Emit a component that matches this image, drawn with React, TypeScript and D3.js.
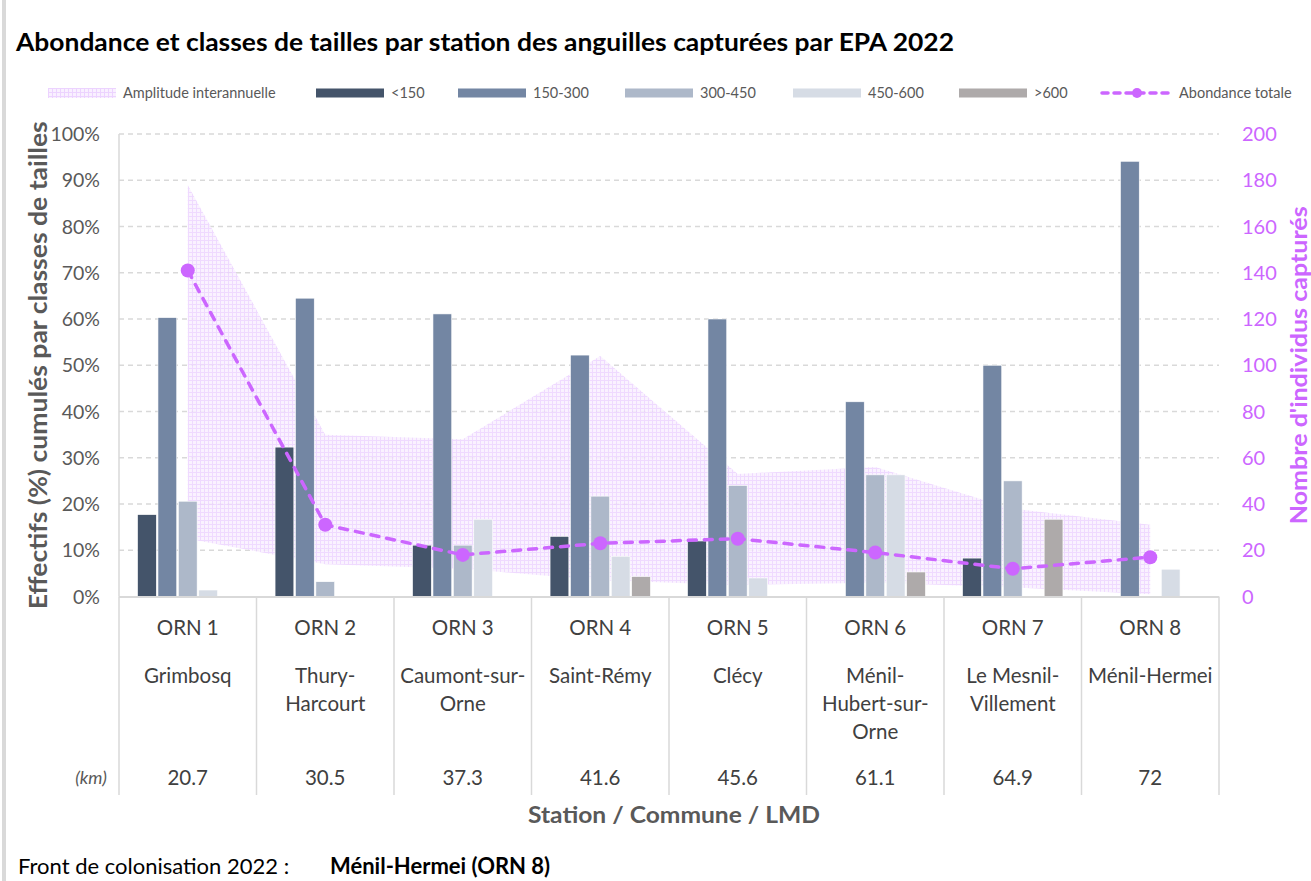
import React, { useEffect, useRef } from 'react';
import * as d3 from 'd3';

// données
const stations = ['ORN 1', 'ORN 2', 'ORN 3', 'ORN 4', 'ORN 5', 'ORN 6', 'ORN 7', 'ORN 8'];
const communes = [
  ['Grimbosq'],
  ['Thury-', 'Harcourt'],
  ['Caumont-sur-', 'Orne'],
  ['Saint-Rémy'],
  ['Clécy'],
  ['Ménil-', 'Hubert-sur-', 'Orne'],
  ['Le Mesnil-', 'Villement'],
  ['Ménil-Hermei'],
];
const distancesKm = ['20.7', '30.5', '37.3', '41.6', '45.6', '61.1', '64.9', '72'];

const sizeClasses = ['<150', '150-300', '300-450', '450-600', '>600'];
const pctLt150 = [17.7, 32.3, 11.1, 13.0, 12.0, 0, 8.3, 0];
const pct150to300 = [60.3, 64.5, 61.1, 52.2, 60.0, 42.1, 50.0, 94.1];
const pct300to450 = [20.6, 3.2, 11.1, 21.7, 24.0, 26.3, 25.0, 0];
const pct450to600 = [1.4, 0, 16.7, 8.7, 4.0, 26.3, 0, 5.9];
const pctGt600 = [0, 0, 0, 4.3, 0, 5.3, 16.7, 0];

const abondanceTotale = [141, 31, 18, 23, 25, 19, 12, 17];
const amplitudeMin = [25, 14, 12, 7, 5, 6, 4, 1];
const amplitudeMax = [178, 70, 68, 104, 53, 56, 38, 31];

const leftTicks = [0, 10, 20, 30, 40, 50, 60, 70, 80, 90, 100];
const rightTicks = [0, 20, 40, 60, 80, 100, 120, 140, 160, 180, 200];

const classColors = ['#44546a', '#7386a3', '#adb8c9', '#d6dce5', '#aeaaaa'];
const lineColor = '#cc66ff';
const font = "Lato, 'Open Sans', sans-serif";

export default function App() {
  const svgRef = useRef<SVGSVGElement>(null);

  useEffect(() => {
    const width = 1311;
    const height = 881;
    const plot = { left: 119, right: 1219, top: 134, bottom: 596.5 };
    const series = [pctLt150, pct150to300, pct300to450, pct450to600, pctGt600];

    const svg = d3.select(svgRef.current);
    svg.selectAll('*').remove();

    svg.append('rect').attr('width', width).attr('height', height).attr('fill', '#fff');
    svg.append('rect').attr('x', 2).attr('y', 0).attr('width', 4).attr('height', height).attr('fill', '#d9d9d9');

    // motif de l'amplitude
    const pat = svg.append('defs').append('pattern')
      .attr('id', 'ampl')
      .attr('width', 4).attr('height', 4)
      .attr('patternUnits', 'userSpaceOnUse');
    pat.append('rect').attr('width', 4).attr('height', 4).attr('fill', '#f9f0ff');
    pat.append('rect').attr('width', 4).attr('height', 1).attr('fill', '#ecd3ff');
    pat.append('rect').attr('width', 1).attr('height', 4).attr('fill', '#ecd3ff');

    // échelles
    const x = d3.scaleBand().domain(stations).range([plot.left, plot.right]);
    const xInner = d3.scaleBand<number>()
      .domain(d3.range(sizeClasses.length))
      .range([0, x.bandwidth()])
      .paddingInner(0.08)
      .paddingOuter(0.91);
    const yLeft = d3.scaleLinear().domain([0, 100]).range([plot.bottom, plot.top]);
    const yRight = d3.scaleLinear().domain([0, 200]).range([plot.bottom, plot.top]);
    const cx = (s: string) => (x(s) as number) + x.bandwidth() / 2;

    // titre
    svg.append('text')
      .attr('x', 16).attr('y', 51)
      .attr('font-family', font).attr('font-size', 25.5).attr('font-weight', 700)
      .attr('fill', '#000')
      .attr('textLength', 938).attr('lengthAdjust', 'spacingAndGlyphs')
      .text('Abondance et classes de tailles par station des anguilles capturées par EPA 2022');

    // grille
    svg.append('g').selectAll('line').data(leftTicks.slice(1)).join('line')
      .attr('x1', plot.left).attr('x2', plot.right)
      .attr('y1', d => yLeft(d)).attr('y2', d => yLeft(d))
      .attr('stroke', '#d9d9d9').attr('stroke-width', 1.3)
      .attr('stroke-dasharray', '5 4');

    // amplitude interannuelle
    const area = d3.area<number>()
      .x((_, i) => cx(stations[i]))
      .y0((_, i) => yRight(amplitudeMin[i]))
      .y1(d => yRight(d));
    svg.append('path')
      .datum(amplitudeMax)
      .attr('fill', 'url(#ampl)')
      .attr('fill-opacity', 0.85)
      .attr('d', area);

    // barres
    series.forEach((vals, k) => {
      svg.append('g').selectAll('rect').data(vals).join('rect')
        .attr('x', (_, i) => (x(stations[i]) as number) + (xInner(k) as number))
        .attr('width', xInner.bandwidth())
        .attr('y', d => yLeft(d))
        .attr('height', d => plot.bottom - yLeft(d))
        .attr('fill', classColors[k])
        .attr('stroke', '#fff').attr('stroke-width', 0.6)
        .attr('opacity', d => (d > 0 ? 1 : 0));
    });

    // axe gauche
    svg.append('line')
      .attr('x1', plot.left).attr('x2', plot.left)
      .attr('y1', plot.top).attr('y2', plot.bottom)
      .attr('stroke', '#d9d9d9').attr('stroke-width', 1.5);
    svg.append('g').selectAll('text').data(leftTicks).join('text')
      .attr('x', 100).attr('y', d => yLeft(d) + 7)
      .attr('text-anchor', 'end')
      .attr('font-family', font).attr('font-size', 19.5).attr('fill', '#595959')
      .text(d => `${d}%`);

    // axe droit
    svg.append('g').selectAll('text').data(rightTicks).join('text')
      .attr('x', 1242).attr('y', d => yRight(d) + 7)
      .attr('font-family', font).attr('font-size', 20).attr('fill', lineColor)
      .text(d => d);

    // axe des stations
    svg.append('line')
      .attr('x1', plot.left).attr('x2', plot.right)
      .attr('y1', plot.bottom + 0.5).attr('y2', plot.bottom + 0.5)
      .attr('stroke', '#d9d9d9').attr('stroke-width', 2);
    svg.append('g').selectAll('line').data(d3.range(stations.length + 1)).join('line')
      .attr('x1', i => plot.left + i * x.step()).attr('x2', i => plot.left + i * x.step())
      .attr('y1', plot.bottom).attr('y2', 795)
      .attr('stroke', '#d9d9d9').attr('stroke-width', 1.5);

    const labels = svg.append('g')
      .attr('font-family', font).attr('font-size', 20.5).attr('fill', '#404040')
      .attr('text-anchor', 'middle');
    stations.forEach((s, i) => {
      labels.append('text').attr('x', cx(s)).attr('y', 635).text(s);
      communes[i].forEach((c, j) => {
        labels.append('text').attr('x', cx(s)).attr('y', 683 + j * 28).text(c);
      });
      labels.append('text').attr('x', cx(s)).attr('y', 785).text(distancesKm[i]);
    });
    svg.append('text')
      .attr('x', 107).attr('y', 784)
      .attr('text-anchor', 'end')
      .attr('font-family', font).attr('font-size', 18).attr('font-style', 'italic')
      .attr('fill', '#595959')
      .text('(km)');

    // abondance totale
    const line = d3.line<number>()
      .x((_, i) => cx(stations[i]))
      .y(d => yRight(d));
    svg.append('path')
      .datum(abondanceTotale)
      .attr('fill', 'none')
      .attr('stroke', lineColor)
      .attr('stroke-width', 3.5)
      .attr('stroke-linecap', 'round')
      .attr('stroke-dasharray', '8 8')
      .attr('d', line);
    svg.append('g').selectAll('circle').data(abondanceTotale).join('circle')
      .attr('cx', (_, i) => cx(stations[i]))
      .attr('cy', d => yRight(d))
      .attr('r', 7)
      .attr('fill', lineColor);

    // titres des axes
    svg.append('text')
      .attr('transform', `translate(47,${(plot.top + plot.bottom) / 2}) rotate(-90)`)
      .attr('text-anchor', 'middle')
      .attr('font-family', font).attr('font-size', 24).attr('font-weight', 700)
      .attr('fill', '#595959')
      .attr('textLength', 488).attr('lengthAdjust', 'spacingAndGlyphs')
      .text('Effectifs (%) cumulés par classes de tailles');
    svg.append('text')
      .attr('transform', `translate(1307,${(plot.top + plot.bottom) / 2}) rotate(-90)`)
      .attr('text-anchor', 'middle')
      .attr('font-family', font).attr('font-size', 23).attr('font-weight', 700)
      .attr('fill', lineColor)
      .attr('textLength', 318).attr('lengthAdjust', 'spacingAndGlyphs')
      .text("Nombre d'individus capturés");
    svg.append('text')
      .attr('x', 674).attr('y', 823)
      .attr('text-anchor', 'middle')
      .attr('font-family', font).attr('font-size', 23).attr('font-weight', 700)
      .attr('fill', '#595959')
      .attr('textLength', 292).attr('lengthAdjust', 'spacingAndGlyphs')
      .text('Station / Commune / LMD');

    // légende
    const legY = 93;
    const legX = [48, 316, 458, 625, 793, 959, 1102];
    const leg = svg.append('g').attr('font-family', font).attr('font-size', 14.5).attr('fill', '#595959');
    leg.append('rect').attr('x', legX[0]).attr('y', legY - 5).attr('width', 68).attr('height', 10)
      .attr('fill', 'url(#ampl)');
    leg.append('text').attr('x', legX[0] + 75).attr('y', legY + 5).text('Amplitude interannuelle');
    sizeClasses.forEach((c, k) => {
      leg.append('rect').attr('x', legX[k + 1]).attr('y', legY - 4.5).attr('width', 68).attr('height', 9)
        .attr('fill', classColors[k]);
      leg.append('text').attr('x', legX[k + 1] + 75).attr('y', legY + 5).text(c);
    });
    leg.append('line')
      .attr('x1', legX[6]).attr('x2', legX[6] + 70)
      .attr('y1', legY).attr('y2', legY)
      .attr('stroke', lineColor).attr('stroke-width', 3.5)
      .attr('stroke-linecap', 'round').attr('stroke-dasharray', '6 6');
    leg.append('circle').attr('cx', legX[6] + 35).attr('cy', legY).attr('r', 5).attr('fill', lineColor);
    leg.append('text').attr('x', legX[6] + 77).attr('y', legY + 5).text('Abondance totale');

    // note
    const note = svg.append('text')
      .attr('x', 18).attr('y', 874)
      .attr('font-family', font).attr('font-size', 22).attr('fill', '#000');
    note.append('tspan').text('Front de colonisation 2022 :');
    note.append('tspan').attr('x', 330).attr('font-weight', 700).text('Ménil-Hermei (ORN 8)');
  }, []);

  return (
    <svg
      ref={svgRef}
      width={1311}
      height={881}
      style={{ position: 'absolute', left: 0, top: 0, display: 'block' }}
    />
  );
}
